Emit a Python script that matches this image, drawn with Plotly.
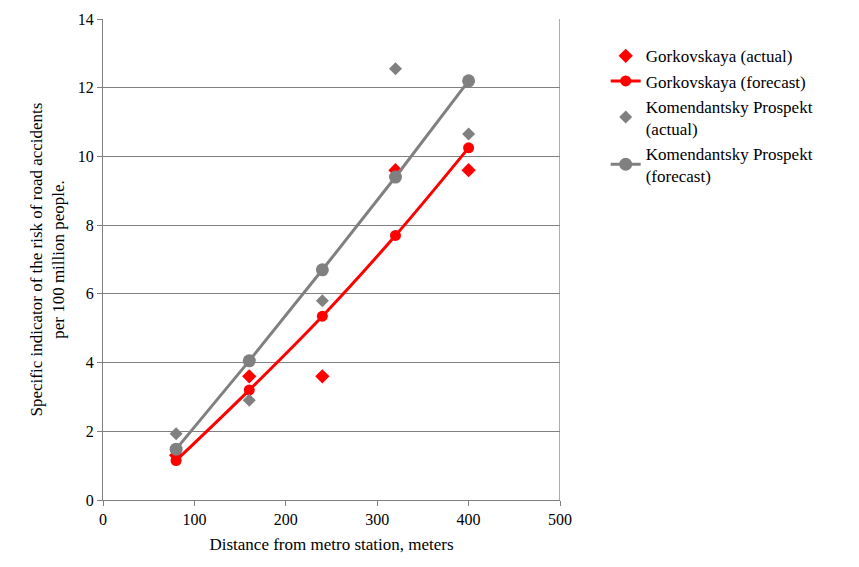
import plotly.graph_objects as go

x = [80, 160, 240, 320, 400]
gork_actual = [1.3, 3.6, 3.6, 9.6, 9.6]
gork_forecast = [1.15, 3.2, 5.35, 7.7, 10.25]
kom_actual = [1.93, 2.9, 5.8, 12.55, 10.65]
kom_forecast = [1.48, 4.05, 6.7, 9.4, 12.2]

red = "#ff0000"
gray = "#808080"
serif = "Liberation Serif"

fig = go.Figure()
fig.add_trace(go.Scatter(x=x, y=gork_actual, mode="markers", name="Gorkovskaya (actual)",
                         marker=dict(symbol="diamond", size=11, color=red)))
fig.add_trace(go.Scatter(x=x, y=gork_forecast, mode="lines+markers", name="Gorkovskaya (forecast)",
                         line=dict(color=red, width=3, shape="spline"),
                         marker=dict(size=11, color=red)))
fig.add_trace(go.Scatter(x=x, y=kom_actual, mode="markers", name="Komendantsky Prospekt<br>(actual)",
                         marker=dict(symbol="diamond", size=10, color=gray)))
fig.add_trace(go.Scatter(x=x, y=kom_forecast, mode="lines+markers", name="Komendantsky Prospekt<br>(forecast)",
                         line=dict(color=gray, width=3),
                         marker=dict(size=13, color=gray)))

fig.update_layout(
    width=859, height=567,
    margin=dict(l=95, r=307, t=11, b=75, autoexpand=False),
    plot_bgcolor="white", paper_bgcolor="white",
    font=dict(family=serif, size=16, color="black"),
    legend=dict(x=1.1, y=0.96, xanchor="left", yanchor="top", tracegroupgap=28,
                font=dict(family=serif, size=17, color="black")),
    xaxis=dict(range=[0, 500], dtick=100, showgrid=False, zeroline=False, automargin=False,
               showline=True, linecolor="#808080", mirror=False, ticks="outside",
               ticklen=5, tickcolor="#808080",
               title=dict(text="Distance from metro station, meters", standoff=10,
                          font=dict(family=serif, size=17))),
    yaxis=dict(range=[0, 14], dtick=2, showgrid=True, gridcolor="#808080", gridwidth=1.3,
               zeroline=False, automargin=False, showline=True, linecolor="#808080",
               ticks="outside", ticklen=5, tickcolor="#808080",
               title=dict(text="Specific indicator of the risk of road accidents<br>per 100 million people.",
                          standoff=8, font=dict(family=serif, size=17))),
)
fig.add_shape(type="line", xref="x", yref="paper", x0=500, x1=500, y0=0, y1=1,
              line=dict(color="#808080", width=1.3))

fig.write_html("out.html")
